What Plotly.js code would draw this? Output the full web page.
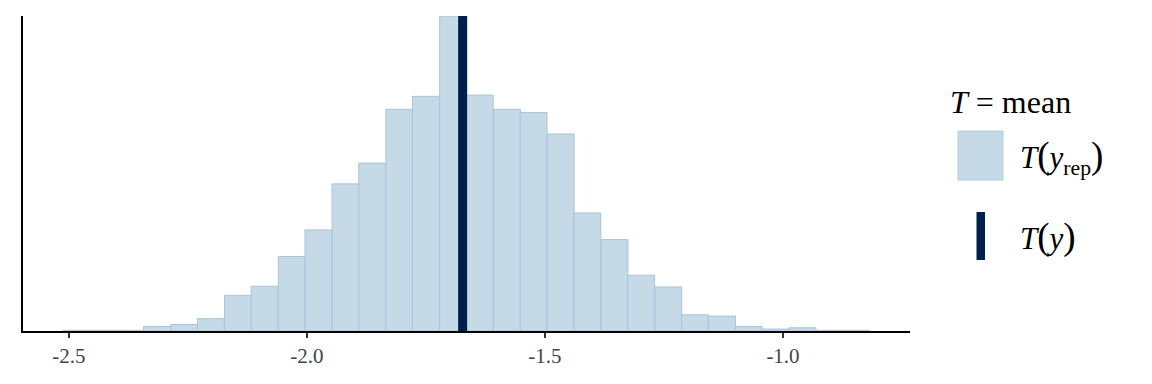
<!DOCTYPE html>
<html>
<head>
<meta charset="utf-8">
<script src="https://cdn.plot.ly/plotly-3.0.1.min.js"></script>
<style>html,body{margin:0;padding:0;background:#fff;}#chart{width:1152px;height:384px;}</style>
</head>
<body>
<div id="chart"></div>
<script>
// Histogram of T(y_rep) = mean over 30 bins (counts)
const binCenters = [-2.484, -2.428, -2.371, -2.315, -2.258, -2.202, -2.145, -2.089, -2.032, -1.976,
                    -1.919, -1.863, -1.806, -1.750, -1.693, -1.637, -1.580, -1.524, -1.467, -1.411,
                    -1.354, -1.298, -1.241, -1.185, -1.128, -1.072, -1.015, -0.959, -0.902, -0.846];
const binCounts  = [1, 1, 1, 7, 10, 19, 55, 69, 115, 156,
                    227, 259, 342, 362, 486, 364, 342, 337, 304, 182,
                    141, 86, 68, 25, 23, 7, 3, 5, 1, 1];
const binWidth = 0.0565;
const observedT = -1.673;   // T(y)
const tickValues = [-2.5, -2.0, -1.5, -1.0];
const tickLabels = ["-2.5", "-2.0", "-1.5", "-1.0"];

const FILL = "#c6d9e6", EDGE = "#a9c4db", DARK = "#011f4b";
const serif = "'Liberation Serif', 'DejaVu Serif', serif";

// plot area in pixels: left 23, right 910, top 16, bottom 331
const L = 23, R = 910, T = 16, B = 331;
const px = v => (v - L) / (R - L);
const py = v => (B - v) / (B - T);

const trace = {
  type: "bar",
  x: binCenters,
  y: binCounts,
  width: binWidth,
  marker: {color: FILL, line: {color: EDGE, width: 1}},
  hoverinfo: "skip",
  showlegend: false
};

const P = s => '<span style="font-size:37px">' + s + '</span>';

const layout = {
  width: 1152, height: 384,
  margin: {l: L, r: 1152 - R, t: T, b: 384 - B},
  paper_bgcolor: "#fff", plot_bgcolor: "#fff",
  font: {family: serif},
  bargap: 0,
  showlegend: false,
  xaxis: {
    range: [-2.5966, -0.7332],
    showline: true, linecolor: "#000", linewidth: 2,
    ticks: "outside", ticklen: 5, tickwidth: 1.5, tickcolor: "#333",
    tickvals: tickValues, ticktext: tickLabels,
    tickfont: {family: serif, size: 21, color: "#444444"},
    showgrid: false, zeroline: false, fixedrange: true
  },
  yaxis: {
    range: [0, 486],
    showline: true, linecolor: "#000", linewidth: 2,
    showticklabels: false, ticks: "",
    showgrid: false, zeroline: false, fixedrange: true
  },
  shapes: [
    {type: "line", xref: "x", yref: "paper", x0: observedT, x1: observedT, y0: 0, y1: 1,
     line: {color: DARK, width: 9}, layer: "above"},
    // legend keys
    {type: "rect", xref: "paper", yref: "paper", x0: px(958), x1: px(1003), y0: py(180), y1: py(131),
     fillcolor: FILL, line: {color: "#b3cde0", width: 1}},
    {type: "rect", xref: "paper", yref: "paper", x0: px(976.5), x1: px(985), y0: py(260), y1: py(212),
     fillcolor: DARK, line: {width: 0}}
  ],
  annotations: [
    {xref: "paper", yref: "paper", x: px(948), y: py(102), xanchor: "left", yanchor: "middle",
     text: "<i>T</i> = mean", showarrow: false, font: {family: serif, size: 32, color: "#000"}},
    {xref: "paper", yref: "paper", x: px(1018), y: py(158), xanchor: "left", yanchor: "middle",
     text: "<i>T</i>" + P("(") + "<i>y</i><sub>rep</sub>" + P(")"), showarrow: false,
     font: {family: serif, size: 31, color: "#000"}},
    {xref: "paper", yref: "paper", x: px(1018), y: py(237), xanchor: "left", yanchor: "middle",
     text: "<i>T</i>" + P("(") + "<i>y</i>" + P(")"), showarrow: false,
     font: {family: serif, size: 31, color: "#000"}}
  ]
};

Plotly.newPlot("chart", [trace], layout, {displayModeBar: false, staticPlot: true});
</script>
</body>
</html>
